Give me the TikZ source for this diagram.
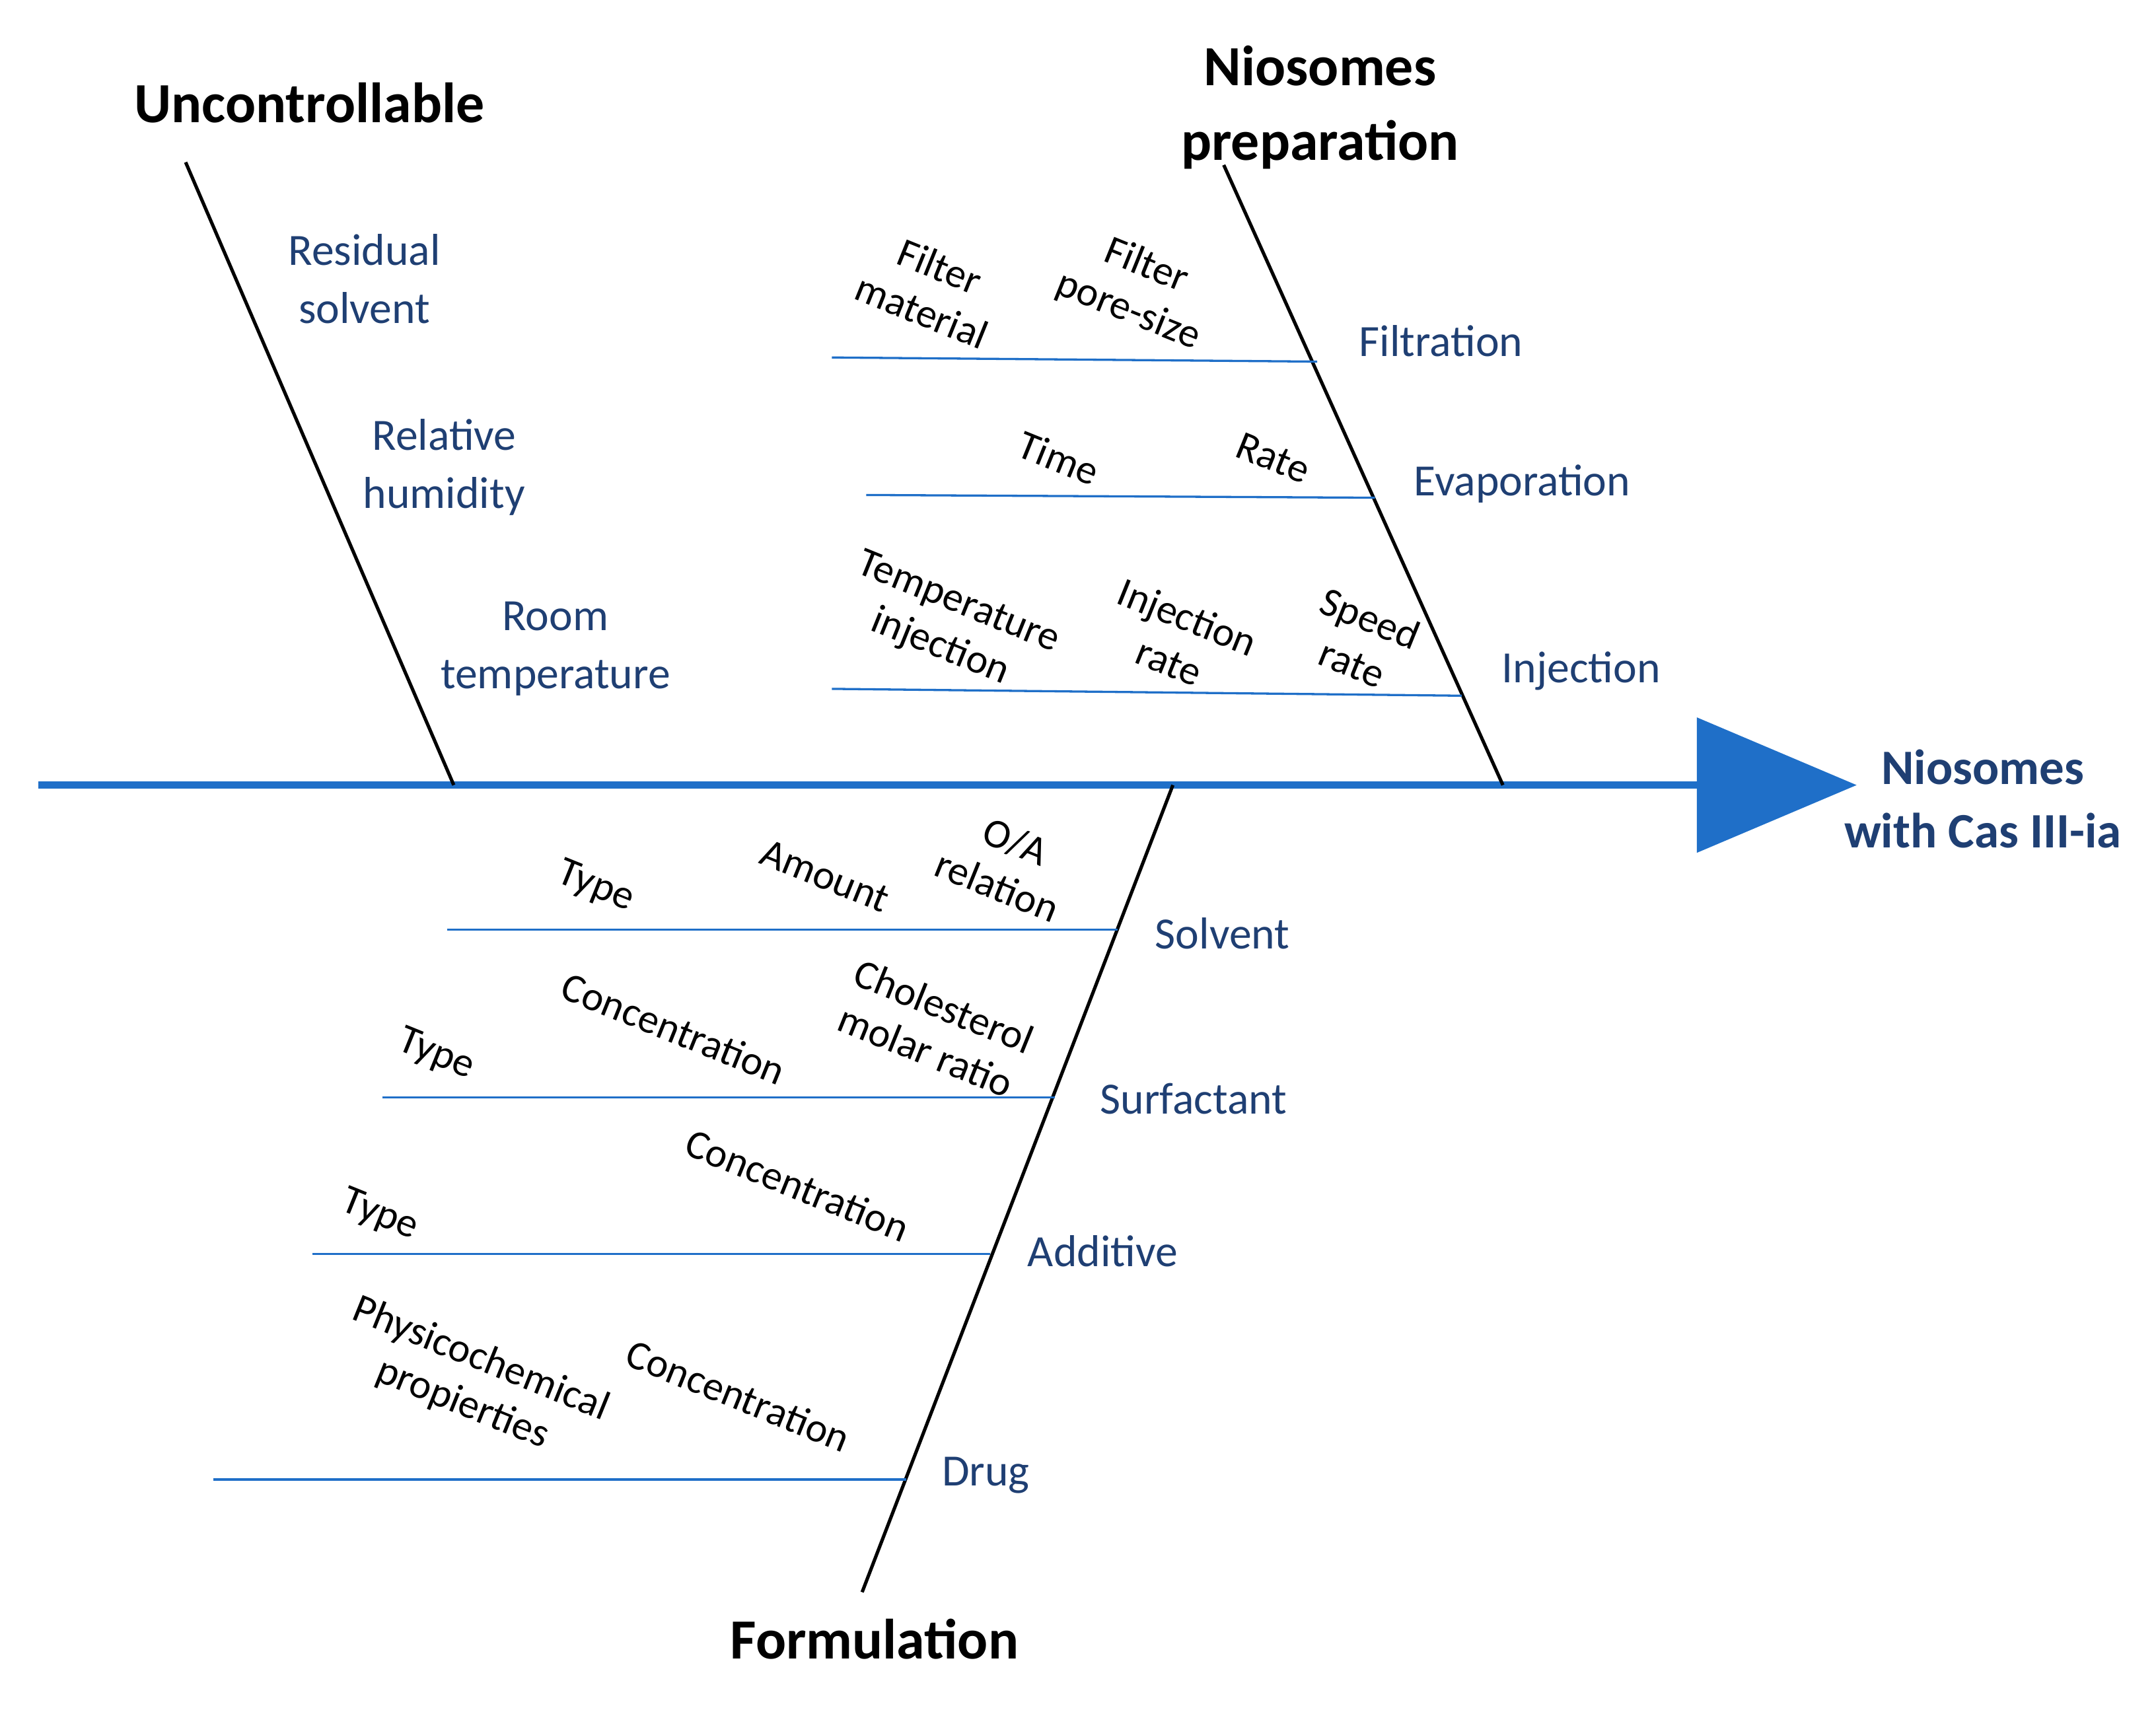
\documentclass[tikz,border=0pt]{standalone}
\usepackage{fontspec}
\setmainfont{Carlito}
\usetikzlibrary{shapes.geometric}
\definecolor{spine}{HTML}{1F6FC8}
\definecolor{lab}{HTML}{1F3F73}
\begin{document}
\begin{tikzpicture}[x=0.02cm,y=-0.02cm,
  title/.style={font=\fontsize{23.5}{31}\selectfont\bfseries,align=center,text=black},
  cause/.style={font=\fontsize{18.5}{24}\selectfont,align=center,text=lab},
  sub/.style={font=\fontsize{17}{20}\selectfont,align=center,text=black,rotate=-22,inner sep=1pt},
  bone/.style={line width=1.4pt,black},
  twig/.style={line width=0.9pt,spine}]
\useasboundingbox (0,0) rectangle (1568,1245);
% spine
\coordinate (s0) at (28,571); \coordinate (s1) at (1236,571);
\draw[line width=3pt,spine] (s0) -- (s1);
\node[fill=spine,draw=spine,isosceles triangle,minimum height=2.3cm,minimum width=1.95cm,isosceles triangle stretches,inner sep=0,anchor=west] (arrow) at (1234,571) {};
\node[title,text=lab,font=\fontsize{20.5}{26}\selectfont\bfseries] (effect) at (1442,581) {Niosomes\\with Cas III-ia};
% Uncontrollable
\coordinate (u0) at (135,118); \coordinate (u1) at (330,571);
\draw[bone] (u0) -- (u1);
\node[title] (ut) at (225,75) {Uncontrollable};
\node[cause] (rs) at (265,203) {Residual\\solvent};
\node[cause] (rh) at (323,340) {Relative\\humidity};
\node[cause] (rt) at (404,472) {Room\\temperature};
% Niosomes preparation
\coordinate (p0) at (890,120); \coordinate (p1) at (1093,571);
\draw[bone] (p0) -- (p1);
\node[title] (pt) at (960,78) {Niosomes\\preparation};
\coordinate (fa) at (605,260); \coordinate (fb) at (958,263);
\coordinate (ea) at (630,360); \coordinate (eb) at (1000,362);
\coordinate (ia) at (605,501); \coordinate (ib) at (1063,506);
\draw[twig] (fa) -- (fb); \draw[twig] (ea) -- (eb); \draw[twig] (ia) -- (ib);
\node[cause] (filt) at (1048,248) {Filtration};
\node[cause] (evap) at (1107,352) {Evaporation};
\node[cause] (inj) at (1150,488) {Injection};
\node[sub] (fm) at (677,210) {Filter\\material};
\node[sub] (fp) at (827,210) {Filter\\pore-size};
\node[sub] (ti) at (770,333) {Time};
\node[sub] (ra) at (926,333) {Rate};
\node[sub] (tinj) at (690,455) {Temperature\\injection};
\node[sub] (ir) at (857,465) {Injection\\rate};
\node[sub] (sr) at (990,466) {Speed\\rate};
% Formulation
\coordinate (q0) at (853,571); \coordinate (q1) at (627,1158);
\draw[bone] (q0) -- (q1);
\node[title] (ft) at (636,1192) {Formulation};
\coordinate (sa) at (325,676); \coordinate (sb) at (813,676);
\coordinate (ua) at (278,798); \coordinate (ub) at (767,798);
\coordinate (aa) at (227,912); \coordinate (ab) at (720,912);
\coordinate (da) at (155,1076); \coordinate (db) at (659,1076);
\draw[twig] (sa) -- (sb); \draw[twig] (ua) -- (ub);
\draw[twig] (aa) -- (ab); \draw[twig] (da) -- (db);
\node[cause] (solv) at (889,679) {Solvent};
\node[cause] (surf) at (868,799) {Surfactant};
\node[cause] (addi) at (802,910) {Additive};
\node[cause] (drug) at (717,1073) {Drug};
\node[sub] (t1) at (433,645) {Type};
\node[sub] (am) at (600,637) {Amount};
\node[sub] (oa) at (732,628) {O/A\\relation};
\node[sub] (t2) at (317,767) {Type};
\node[sub] (c1) at (490,748) {Concentration};
\node[sub] (ch) at (680,748) {Cholesterol\\molar ratio};
\node[sub] (t3) at (276,884) {Type};
\node[sub] (c2) at (580,862) {Concentration};
\node[sub] (ph) at (343,1005) {Physicochemical\\propierties};
\node[sub] (c3) at (537,1015) {Concentration};
\end{tikzpicture}
\end{document}
